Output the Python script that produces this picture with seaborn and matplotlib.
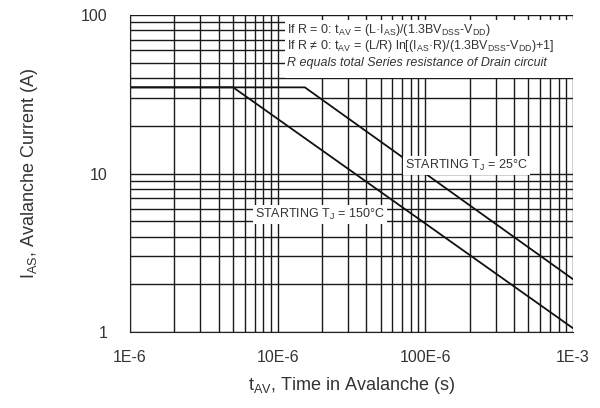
import matplotlib
matplotlib.use('Agg')
import matplotlib.pyplot as plt
import seaborn as sns
import pandas as pd
from matplotlib.ticker import LogLocator, FixedLocator, NullFormatter
from matplotlib.patches import Rectangle

# Curvas de avalancha
t_25 = [1e-6, 15.3e-6, 1e-3]
i_25 = [35, 35, 2.16]
t_150 = [1e-6, 5.0e-6, 1e-3]
i_150 = [35, 35, 1.06]

x_ticks = [1e-6, 1e-5, 1e-4, 1e-3]
x_labels = ['1E-6', '10E-6', '100E-6', '1E-3']
y_ticks = [1, 10, 100]
y_labels = ['1', '10', '100']

df = pd.DataFrame({
    't': t_25 + t_150,
    'i': i_25 + i_150,
    'curva': ['25'] * len(t_25) + ['150'] * len(t_150),
})

sns.set_style('white')
plt.rcParams['font.family'] = ['Liberation Sans', 'DejaVu Sans']
plt.rcParams['mathtext.default'] = 'regular'

fig = plt.figure(figsize=(6, 4.08), dpi=100)
ax = fig.add_axes([0.2167, 0.186, 0.738, 0.777])

ax.set_xscale('log')
ax.set_yscale('log')
ax.set_xlim(1e-6, 1e-3)
ax.set_ylim(1, 100)

# rejilla densa
ax.xaxis.set_minor_locator(LogLocator(base=10, subs=range(2, 10)))
ax.yaxis.set_minor_locator(LogLocator(base=10, subs=range(2, 10)))
ax.xaxis.set_minor_formatter(NullFormatter())
ax.yaxis.set_minor_formatter(NullFormatter())
ax.grid(True, which='both', color='#1a1a1a', linewidth=1.0)
ax.set_axisbelow(True)

sns.lineplot(data=df, x='t', y='i', units='curva', estimator=None,
             color='#111111', linewidth=1.3, ax=ax, sort=False)

ax.xaxis.set_major_locator(FixedLocator(x_ticks))
ax.set_xticklabels(x_labels)
ax.yaxis.set_major_locator(FixedLocator(y_ticks))
ax.set_yticklabels(y_labels)
ax.tick_params(which='both', length=0, labelsize=11.5, colors='#333333')
ax.tick_params(axis='x', pad=13)
ax.tick_params(axis='y', pad=16)

for s in ax.spines.values():
    s.set_visible(False)
ax.spines['left'].set_visible(True)
ax.spines['bottom'].set_visible(True)
ax.spines['left'].set_color('#222222')
ax.spines['bottom'].set_color('#222222')

ax.set_xlabel('$t_{AV}$, Time in Avalanche (s)', fontsize=13, color='#333333')
ax.set_ylabel('$I_{AS}$, Avalanche Current (A)', fontsize=13, color='#333333')
ax.xaxis.set_label_coords(0.5, -0.167)
ax.yaxis.set_label_coords(-0.226, 0.5)
ax.xaxis.label.set_va('center')
ax.yaxis.label.set_va('center')

# recuadro con fórmulas
ax.add_patch(Rectangle((0.35, 0.80), 0.65, 0.185, transform=ax.transAxes,
                       facecolor='white', edgecolor='none', zorder=2))
ax.text(0.355, 0.953, 'If R = 0: $t_{AV}$ = (L·$I_{AS}$)/(1.3BV$_{DSS}$-V$_{DD}$)',
        transform=ax.transAxes, fontsize=9, color='#333333', va='center', zorder=3)
ax.text(0.355, 0.902, 'If R ≠ 0: $t_{AV}$ = (L/R) ln[($I_{AS}$·R)/(1.3BV$_{DSS}$-V$_{DD}$)+1]',
        transform=ax.transAxes, fontsize=9, color='#333333', va='center', zorder=3)
ax.text(0.355, 0.848, 'R equals total Series resistance of Drain circuit',
        transform=ax.transAxes, fontsize=9, style='italic', color='#333333',
        va='center', zorder=3)

ax.text(1.91e-4, 11.3, 'STARTING $T_J$ = 25°C', fontsize=9, color='#333333',
        ha='center', va='center', zorder=3,
        bbox=dict(facecolor='white', edgecolor='none', pad=1.5))
ax.text(5.3e-5, 5.5, 'STARTING $T_J$ = 150°C', fontsize=9, color='#333333',
        ha='right', va='center', zorder=3,
        bbox=dict(facecolor='white', edgecolor='none', pad=1.5))

fig.savefig('out.png', dpi=100, facecolor='white')
